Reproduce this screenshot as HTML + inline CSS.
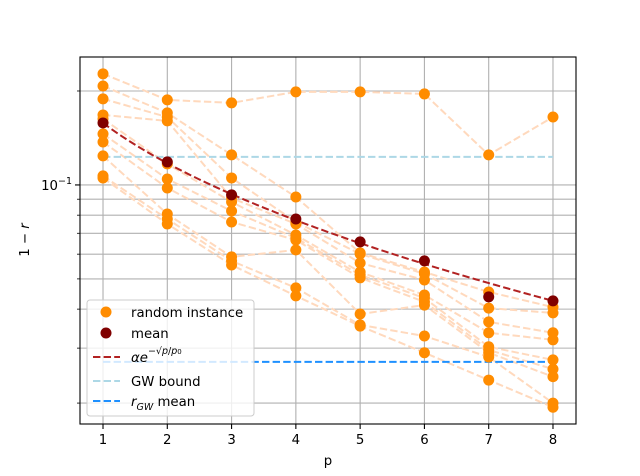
<!DOCTYPE html>
<html><head><meta charset="utf-8"><style>
body{margin:0;background:#fff}
svg{display:block;font-family:"DejaVu Sans","Liberation Sans",sans-serif}
</style></head><body>
<svg id="chart" width="640" height="476" viewBox="0 0 640 476">
<rect x="0" y="0" width="640" height="476" fill="#fff"/>
<g id="grid"></g>
<g id="series"></g>
<g id="axes"></g>
<g id="legend"></g>
</svg>
<script>
const pValues=[1,2,3,4,5,6,7,8];
const inst0=[0.227,0.1873,0.1832,0.1987,0.1987,0.1957,0.1248,0.1651];
const inst1=[0.2075,0.1701,0.1248,0.0915,0.0606,0.0526,0.0454,0.0406];
const inst2=[0.1887,0.165,0.1053,0.0761,0.0601,0.0519,0.0403,0.0389];
const inst3=[0.1676,0.1604,0.0908,0.075,0.0562,0.0496,0.0364,0.0336];
const inst4=[0.1628,0.1168,0.0882,0.0691,0.0526,0.0444,0.0336,0.0319];
const inst5=[0.1457,0.1045,0.0825,0.0676,0.0515,0.0434,0.0303,0.0275];
const inst6=[0.1373,0.0978,0.0761,0.0666,0.0504,0.0422,0.0296,0.0257];
const inst7=[0.1239,0.0807,0.0588,0.0619,0.0386,0.0412,0.029,0.0243];
const inst8=[0.1069,0.0778,0.0571,0.0468,0.0356,0.0328,0.0281,0.02];
const inst9=[0.1053,0.075,0.0554,0.0441,0.0353,0.029,0.0237,0.0194];
const instances=[inst0,inst1,inst2,inst3,inst4,inst5,inst6,inst7,inst8,inst9];
const meanValues=[0.158,0.1185,0.0929,0.0778,0.0657,0.0571,0.0438,0.0425];
const alpha=0.324, p0=1.94;
const gwBound=0.123, gwMean=0.0271;
const xTicks=[1,2,3,4,5,6,7,8];
const yMinorTicks=[0.02,0.03,0.04,0.05,0.06,0.07,0.08,0.09,0.2];

const L=80,R=576,T=57,B=424;
const xMin=0.642,xMax=8.358;
const yMin=0.01714,yMax=0.257;
const FS=13.3;
const X=p=>L+(p-xMin)/(xMax-xMin)*(R-L);
const Y=v=>B-(Math.log10(v)-Math.log10(yMin))/(Math.log10(yMax)-Math.log10(yMin))*(B-T);
const NS='http://www.w3.org/2000/svg';
function mk(tag,attrs,parent){const e=document.createElementNS(NS,tag);for(const k in attrs)e.setAttribute(k,attrs[k]);parent.appendChild(e);return e;}
const grid=document.getElementById('grid'),series=document.getElementById('series'),axes=document.getElementById('axes'),legend=document.getElementById('legend');

xTicks.forEach(p=>{const l=mk('line',{x1:X(p),x2:X(p),y1:T,y2:B,stroke:'#b0b0b0','stroke-width':1.1},grid);

});
[0.1].concat(yMinorTicks).forEach(v=>{const l=mk('line',{x1:L,x2:R,y1:Y(v),y2:Y(v),stroke:'#b0b0b0','stroke-width':1.1},grid);

});

instances.forEach(s=>{const pl=mk('polyline',{points:s.map((v,i)=>X(pValues[i])+','+Y(v)).join(' '),fill:'none',stroke:'#ffd9bd','stroke-width':2,'stroke-dasharray':'7.4,3.2'},series);

});

const gw=mk('line',{x1:X(1),x2:X(8),y1:Y(gwBound),y2:Y(gwBound),stroke:'#add8e6','stroke-width':2,'stroke-dasharray':'7.4,3.2'},series);


const gm=mk('line',{x1:X(1),x2:X(8),y1:Y(gwMean),y2:Y(gwMean),stroke:'#1e90ff','stroke-width':2,'stroke-dasharray':'7.4,3.2'},series);



const fitPts=[];for(let i=0;i<=70;i++){const p=1+i*0.1;fitPts.push(X(p)+','+Y(alpha*Math.exp(-Math.sqrt(p/p0))));}
const fit=mk('polyline',{points:fitPts.join(' '),fill:'none',stroke:'#b22222','stroke-width':2,'stroke-dasharray':'7.4,3.2'},series);



instances.forEach(s=>s.forEach((v,i)=>{const c=mk('circle',{cx:X(pValues[i]),cy:Y(v),r:5.5,fill:'#ff8c00'},series);

}));
meanValues.forEach((v,i)=>{const c=mk('circle',{cx:X(pValues[i]),cy:Y(v),r:5.5,fill:'#800000'},series);

});

const fr=mk('rect',{x:L,y:T,width:R-L,height:B-T,fill:'none',stroke:'#000','stroke-width':1.1},axes);


xTicks.forEach(p=>{mk('line',{x1:X(p),x2:X(p),y1:B,y2:B+5,stroke:'#000','stroke-width':1.1},axes);
const t=mk('text',{x:X(p),y:B+20,'text-anchor':'middle','font-size':FS},axes);t.textContent=p;

});
mk('line',{x1:L-5,x2:L,y1:Y(0.1),y2:Y(0.1),stroke:'#000','stroke-width':1.1},axes);
yMinorTicks.forEach(v=>mk('line',{x1:L-3,x2:L,y1:Y(v),y2:Y(v),stroke:'#000','stroke-width':0.8},axes));
const yt=mk('text',{x:L-8,y:Y(0.1)+5,'text-anchor':'end','font-size':FS},axes);
yt.innerHTML='10<tspan dy="-6" font-size="9.5">−1</tspan>';


const xl=mk('text',{x:(L+R)/2,y:465,'text-anchor':'middle','font-size':FS},axes);xl.textContent='p';


const yl=mk('text',{x:0,y:0,'text-anchor':'middle','font-size':FS,transform:'translate(29,240) rotate(-90)'},axes);
yl.innerHTML='1 − <tspan font-style="italic">r</tspan>';



const lb=mk('rect',{x:87,y:300,width:167,height:116,rx:3,fill:'#fff','fill-opacity':0.8,stroke:'#ccc'},legend);


const entries=[['random instance','pt','#ff8c00',312],['mean','pt','#800000',333],['','ln','#b22222',357],['GW bound','ln','#add8e6',381],['','ln','#1e90ff',401]];
entries.forEach((e,i)=>{
 if(e[1]==='pt')mk('circle',{cx:106,cy:e[3],r:5.5,fill:e[2]},legend);
 else mk('line',{x1:93,x2:120,y1:e[3],y2:e[3],stroke:e[2],'stroke-width':2,'stroke-dasharray':'7.4,3.2'},legend);
 const t=mk('text',{x:131,y:e[3]+5,'font-size':FS},legend);
 if(i===2)t.innerHTML='<tspan font-style="italic">αe</tspan><tspan dy="-8" font-size="9.5">−√<tspan font-style="italic">p</tspan>/<tspan font-style="italic">p</tspan><tspan font-size="7">0</tspan></tspan>';
 else if(i===4)t.innerHTML='<tspan font-style="italic">r</tspan><tspan dy="4" font-size="9.5" font-style="italic">GW</tspan><tspan dy="-4"> mean</tspan>';
 else t.textContent=e[0];
 
 
});
</script>
</body></html>
